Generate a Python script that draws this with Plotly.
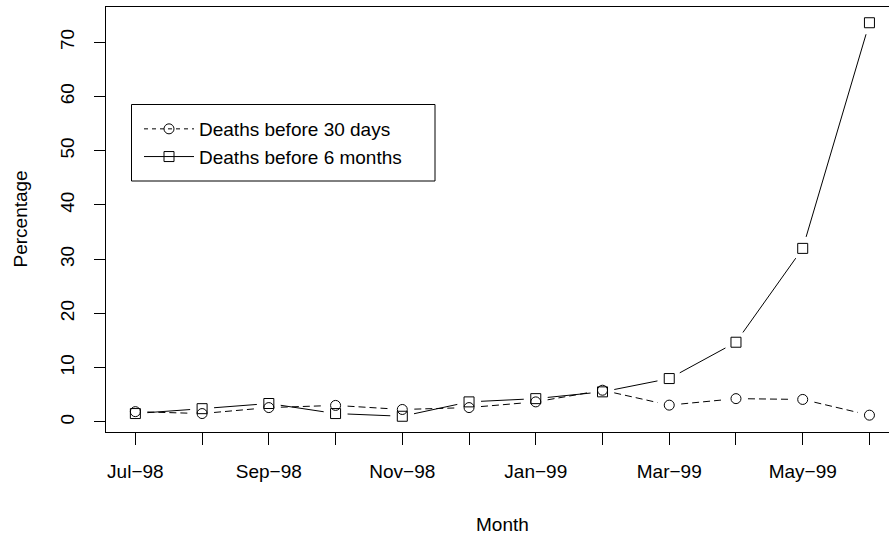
import math
import plotly.graph_objects as go

# Monthly mortality percentages, July 1998 - June 1999
months = ["Jul\u221298", "Aug\u221298", "Sep\u221298", "Oct\u221298", "Nov\u221298", "Dec\u221298",
          "Jan\u221299", "Feb\u221299", "Mar\u221299", "Apr\u221299", "May\u221299", "Jun\u221299"]
deaths_30d = [1.9, 1.55, 2.65, 3.05, 2.3, 2.65, 3.7, 5.85, 3.1, 4.3, 4.15, 1.25]
deaths_6m = [1.55, 2.45, 3.4, 1.55, 1.05, 3.7, 4.3, 5.55, 8.0, 14.7, 32.0, 73.6]

x = list(range(1, len(months) + 1))
# label every other month, tick every month
tick_text = [m if i % 2 == 0 else "" for i, m in enumerate(months)]

FONT = "Liberation Sans, Arial, Helvetica, sans-serif"
FS = 19

W, H = 889, 536
M = dict(l=106, r=0, t=7, b=104)
PLOT_W = W - M["l"] - M["r"]
PLOT_H = H - M["t"] - M["b"]

# axis ranges: y padded by 4% on each side
lo = min(deaths_30d + deaths_6m)
hi = max(deaths_30d + deaths_6m)
pad = 0.04 * (hi - lo)
y_range = [lo - pad, hi + pad]
x_range = [0.56, 12.293]

px_x = PLOT_W / (x_range[1] - x_range[0])
px_y = PLOT_H / (y_range[1] - y_range[0])
GAP = 12  # px left open around each point ("both" style)


def gapped(xs, ys):
    """Split a polyline into segments trimmed by GAP pixels at each end."""
    gx, gy = [], []
    for (x0, y0), (x1, y1) in zip(zip(xs, ys), zip(xs[1:], ys[1:])):
        dx, dy = (x1 - x0) * px_x, (y1 - y0) * px_y
        d = math.hypot(dx, dy)
        if d <= 2 * GAP:
            continue
        f = GAP / d
        gx += [x0 + (x1 - x0) * f, x1 - (x1 - x0) * f, None]
        gy += [y0 + (y1 - y0) * f, y1 - (y1 - y0) * f, None]
    return gx, gy


fig = go.Figure()

series = [
    ("Deaths before 30 days", deaths_30d, "circle-open", "7px,4px"),
    ("Deaths before 6 months", deaths_6m, "square-open", "solid"),
]

for name, vals, sym, dash in series:
    sx, sy = gapped(x, vals)
    fig.add_trace(go.Scatter(x=sx, y=sy, mode="lines", showlegend=False,
                             line=dict(color="black", width=1, dash=dash),
                             connectgaps=False, hoverinfo="skip"))
    fig.add_trace(go.Scatter(x=x, y=vals, mode="markers", showlegend=False, name=name,
                             marker=dict(symbol=sym, size=10, color="black",
                                         line=dict(width=1, color="black"))))

# legend entries
for name, vals, sym, dash in series:
    fig.add_trace(go.Scatter(x=[None], y=[None], mode="lines+markers", name=name,
                             line=dict(color="black", width=1,
                                       dash="4px,4px" if dash != "solid" else dash),
                             marker=dict(symbol=sym, size=10, color="black",
                                         line=dict(width=1, color="black"))))

fig.update_layout(
    width=W, height=H,
    margin=M,
    paper_bgcolor="white", plot_bgcolor="white",
    font=dict(family=FONT, size=FS, color="black"),
    showlegend=True,
    legend=dict(x=(139 - 106) / PLOT_W, y=1 - (110 - 7) / PLOT_H, xanchor="left", yanchor="top",
                bgcolor="rgba(0,0,0,0)", borderwidth=0,
                font=dict(family=FONT, size=FS, color="black"),
                itemwidth=50, tracegroupgap=0),
    xaxis=dict(range=x_range, tickmode="array", tickvals=x, ticktext=tick_text,
               showline=True, linecolor="black", linewidth=1, mirror=True,
               ticks="outside", ticklen=12, tickcolor="black", tickwidth=1,
               showgrid=False, zeroline=False, tickangle=0, ticklabelstandoff=10,
               tickfont=dict(family=FONT, size=FS, color="black")),
    yaxis=dict(range=y_range, tickmode="array", tickvals=list(range(0, 80, 10)),
               showline=True, linecolor="black", linewidth=1, mirror=False,
               ticks="outside", ticklen=11, tickcolor="black", tickwidth=1,
               showgrid=False, zeroline=False, tickangle=-90, ticklabelstandoff=12,
               tickfont=dict(family=FONT, size=FS, color="black")),
    shapes=[dict(type="rect", xref="paper", yref="paper",
                 x0=(131.5 - 106) / PLOT_W, x1=(435 - 106) / PLOT_W,
                 y0=1 - (181 - 7) / PLOT_H, y1=1 - (104.5 - 7) / PLOT_H,
                 line=dict(color="black", width=1), fillcolor="rgba(0,0,0,0)")],
    annotations=[
        dict(text="Month", xref="paper", yref="paper", x=(502.5 - 106) / PLOT_W,
             y=1 - (524 - 7) / PLOT_H, showarrow=False, xanchor="center", yanchor="middle",
             font=dict(family=FONT, size=FS, color="black")),
        dict(text="Percentage", xref="paper", yref="paper", x=(20 - 106) / PLOT_W,
             y=0.5, showarrow=False, xanchor="center", yanchor="middle", textangle=-90,
             font=dict(family=FONT, size=FS, color="black")),
    ],
)

fig.write_html("out.html")
